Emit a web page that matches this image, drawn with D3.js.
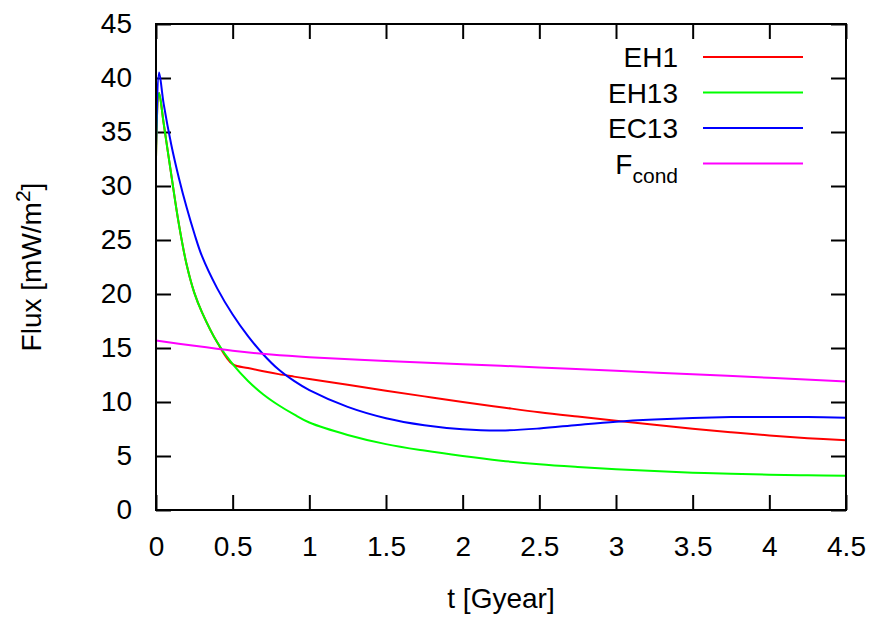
<!DOCTYPE html>
<html>
<head>
<meta charset="utf-8">
<script src="https://cdn.jsdelivr.net/npm/d3@7"></script>
<style>
  body { margin: 0; background: #fff; }
  text { font-family: "Liberation Sans", Arial, sans-serif; fill: #000; }
</style>
</head>
<body>
<div id="chart"></div>
<script>
// time axis (Gyear)
var tEarly = [0, 0.02, 0.05, 0.1, 0.15, 0.2, 0.25, 0.3, 0.4, 0.5];
var tLate = [0.6, 0.7, 0.8, 0.9, 1.0, 1.25, 1.5, 1.75, 2.0, 2.25, 2.5, 2.75, 3.0, 3.25, 3.5, 3.75, 4.0, 4.25, 4.5];

var eh13 = [32.6, 38.6, 35.8, 31.0, 26.4, 22.7, 20.1, 18.3, 15.5, 13.5,
            11.95, 10.7, 9.7, 8.85, 8.1, 6.95, 6.1, 5.5, 5.0, 4.57, 4.23, 3.98, 3.77, 3.6, 3.46, 3.35, 3.27, 3.22, 3.18];
var eh1 = [32.6, 38.6, 35.8, 31.0, 26.4, 22.7, 20.1, 18.3, 15.5, 13.5,
           13.15, 12.85, 12.58, 12.35, 12.13, 11.6, 11.05, 10.52, 10.0, 9.52, 9.05, 8.65, 8.27, 7.9, 7.52, 7.2, 6.9, 6.65, 6.45];
var ec13 = [33.6, 40.5, 37.6, 33.8, 30.7, 28.0, 25.6, 23.5, 20.5, 18.1,
            16.1, 14.4, 13.0, 11.95, 11.1, 9.55, 8.5, 7.85, 7.48, 7.36, 7.55, 7.88, 8.18, 8.38, 8.52, 8.6, 8.62, 8.6, 8.55];
var tCond = [0, 0.25, 0.5, 0.75, 1.0, 1.5, 2.0, 2.5, 3.0, 3.5, 4.0, 4.5];
var fcond = [15.7, 15.2, 14.75, 14.4, 14.15, 13.8, 13.5, 13.2, 12.9, 12.56, 12.25, 11.9];

var xTicks = [0, 0.5, 1, 1.5, 2, 2.5, 3, 3.5, 4, 4.5];
var yTicks = [0, 5, 10, 15, 20, 25, 30, 35, 40, 45];

var tAll = tEarly.concat(tLate);
var series = [
  { name: "EH1", color: "#ff0000", pts: d3.zip(tAll, eh1) },
  { name: "EH13", color: "#00ff00", pts: d3.zip(tAll, eh13) },
  { name: "EC13", color: "#0000ff", pts: d3.zip(tAll, ec13) },
  { name: "F", sub: "cond", color: "#ff00ff", pts: d3.zip(tCond, fcond) }
];

var W = 878, H = 622;
var margin = { top: 24, right: 32, bottom: 112, left: 156 },
    width = W - margin.left - margin.right,
    height = H - margin.top - margin.bottom;

var svg = d3.select("#chart").append("svg")
    .attr("width", W)
    .attr("height", H)
  .append("g")
    .attr("transform", "translate(" + margin.left + "," + margin.top + ")");

var x = d3.scaleLinear().domain([0, 4.5]).range([0, width]);
var y = d3.scaleLinear().domain([0, 45]).range([height, 0]);

var fmt = d3.format("~g");

svg.append("g")
    .attr("transform", "translate(0," + height + ")")
    .call(d3.axisBottom(x).tickValues(xTicks).tickFormat(fmt).tickSize(-15).tickPadding(26))
    .call(g => g.select(".domain").remove());
svg.append("g")
    .call(d3.axisLeft(y).tickValues(yTicks).tickSize(-15).tickPadding(24))
    .call(g => g.select(".domain").remove());
svg.append("g")
    .call(d3.axisTop(x).tickValues(xTicks).tickFormat("").tickSize(-15))
    .call(g => g.select(".domain").remove());
svg.append("g")
    .attr("transform", "translate(" + width + ",0)")
    .call(d3.axisRight(y).tickValues(yTicks).tickFormat("").tickSize(-15))
    .call(g => g.select(".domain").remove());

svg.selectAll(".tick line").attr("stroke", "#000").attr("stroke-width", 2);
svg.selectAll(".tick text").attr("font-size", 28).style("font-family", "Liberation Sans, Arial, sans-serif");

var line = d3.line()
    .x(d => x(d[0]))
    .y(d => y(d[1]))
    .curve(d3.curveCatmullRom.alpha(0.5));

svg.selectAll(".curve")
  .data(series)
  .join("path")
    .attr("class", "curve")
    .attr("fill", "none")
    .attr("stroke", d => d.color)
    .attr("stroke-width", 2)
    .attr("d", d => line(d.pts));

svg.append("rect")
    .attr("width", width)
    .attr("height", height)
    .attr("fill", "none")
    .attr("stroke", "#000")
    .attr("stroke-width", 2);

// legend
var legend = svg.selectAll(".legend")
  .data(series)
  .join("g")
    .attr("class", "legend")
    .attr("transform", (d, i) => "translate(0," + (33 + i * 35.5) + ")");

legend.append("line")
    .attr("x1", 547).attr("x2", 647)
    .attr("stroke", d => d.color)
    .attr("stroke-width", 2);

var lt = legend.append("text")
    .attr("x", 522)
    .attr("dy", "0.36em")
    .attr("text-anchor", "end")
    .attr("font-size", 28);
lt.append("tspan").text(d => d.name);
lt.filter(d => d.sub).append("tspan")
    .attr("font-size", 21)
    .attr("dy", 9)
    .text(d => d.sub);

// axis titles
svg.append("text")
    .attr("x", width / 2)
    .attr("y", height + 98)
    .attr("text-anchor", "middle")
    .attr("font-size", 28)
    .text("t [Gyear]");

var yl = svg.append("text")
    .attr("transform", "translate(-115," + (height / 2) + ") rotate(-90)")
    .attr("text-anchor", "middle")
    .attr("font-size", 28);
yl.append("tspan").text("Flux [mW/m");
yl.append("tspan").attr("font-size", 21).attr("dy", -11).text("2");
yl.append("tspan").attr("dy", 11).text("]");
</script>
</body>
</html>
